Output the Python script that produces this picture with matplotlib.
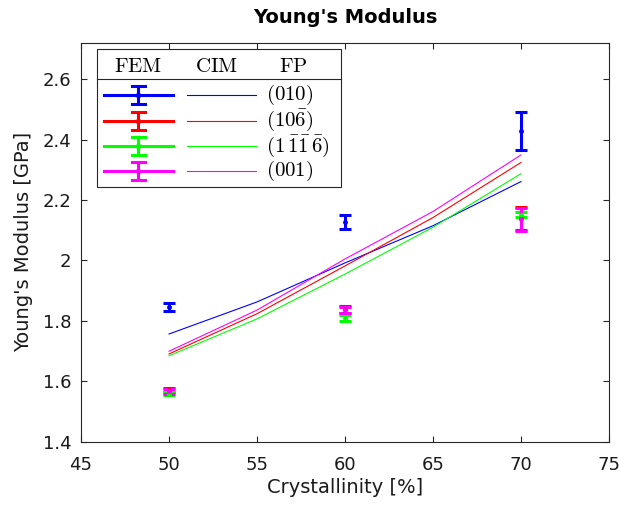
import matplotlib
matplotlib.use('Agg')
import matplotlib.pyplot as plt
from matplotlib.patches import Rectangle
from matplotlib.lines import Line2D
from matplotlib.ticker import FuncFormatter

plt.rcParams['font.family'] = 'DejaVu Sans'
plt.rcParams['mathtext.fontset'] = 'cm'

# FEM results (mean and error half-width) per crystallinity
fem_x = [50, 60, 70]
fem_blue = [1.845, 2.128, 2.428]
fem_blue_err = [0.013, 0.024, 0.062]
fem_red = [1.572, 1.838, 2.140]
fem_red_err = [0.008, 0.011, 0.038]
fem_green = [1.560, 1.810, 2.152]
fem_green_err = [0.005, 0.010, 0.008]
fem_magenta = [1.568, 1.835, 2.136]
fem_magenta_err = [0.008, 0.010, 0.037]

# CIM curves
cim_x = [50, 55, 60, 65, 70]
cim_blue = [1.757, 1.863, 1.992, 2.115, 2.261]
cim_red = [1.691, 1.824, 1.982, 2.142, 2.324]
cim_green = [1.685, 1.807, 1.955, 2.110, 2.287]
cim_magenta = [1.700, 1.836, 2.005, 2.162, 2.349]

plane_labels = [r'$(010)$', r'$(10\bar{6})$', r'$(1\,\bar{1}\bar{1}\,\bar{6})$', r'$(001)$']
colors = ['#0000ff', '#ff0000', '#00ff00', '#ff00ff']

fem_means = [fem_blue, fem_red, fem_green, fem_magenta]
fem_errs = [fem_blue_err, fem_red_err, fem_green_err, fem_magenta_err]
cim_vals = [cim_blue, cim_red, cim_green, cim_magenta]

fig = plt.figure(figsize=(6.19, 5.05), dpi=100)
ax = fig.add_axes([0.1309, 0.1248, 0.8529, 0.7906])

for vals, c in zip(cim_vals, colors):
    ax.plot(cim_x, vals, color=c, linewidth=0.8)

for m, e, c in zip(fem_means, fem_errs, colors):
    ax.errorbar(fem_x, m, yerr=e, fmt='.', color=c, markersize=5,
                elinewidth=2.2, capsize=4.5, capthick=2.2)

ax.set_xlim(45, 75)
ax.set_ylim(1.4, 2.72)
ax.set_xticks([45, 50, 55, 60, 65, 70, 75])
ax.set_yticks([1.4, 1.6, 1.8, 2.0, 2.2, 2.4, 2.6])
ax.yaxis.set_major_formatter(FuncFormatter(lambda v, p: '%g' % round(v, 2)))
ax.tick_params(direction='in', top=True, right=True, length=4, width=0.8,
               labelsize=13, colors='#262626', labelcolor='#1a1a1a')
ax.tick_params(axis='x', pad=10)
ax.tick_params(axis='y', pad=7)
for s in ax.spines.values():
    s.set_color('#262626')
    s.set_linewidth(0.8)

ax.set_title("Young's Modulus", fontsize=14, fontweight='bold', pad=14)
ax.set_xlabel('Crystallinity [%]', fontsize=14, color='#1a1a1a', labelpad=3)
ax.set_ylabel("Young's Modulus [GPa]", fontsize=14, color='#1a1a1a', labelpad=7)

# custom table-style legend
tr = ax.transAxes
ax.add_patch(Rectangle((0.031, 0.6395), 0.4608, 0.344, transform=tr,
                       facecolor='white', edgecolor='#262626', linewidth=0.8, zorder=5))
ax.add_line(Line2D([0.031, 0.4918], [0.9084, 0.9084], transform=tr,
                   color='#262626', linewidth=0.8, zorder=6))
head_y = 0.941
for txt, xx in [('FEM', 0.108), ('CIM', 0.2557), ('FP', 0.4015)]:
    ax.text(xx, head_y, r'$\mathrm{%s}$' % txt, transform=tr, ha='center', va='center',
            fontsize=15, zorder=7)

row_y = [0.869, 0.8047, 0.7414, 0.6788]
cap_w = 0.012
bar_h = 0.023
for ry, c, lab in zip(row_y, colors, plane_labels):
    ax.add_line(Line2D([0.0436, 0.1737], [ry, ry], transform=tr, color=c, linewidth=2.2, zorder=7))
    ax.add_line(Line2D([0.1086, 0.1086], [ry - bar_h, ry + bar_h], transform=tr, color=c,
                       linewidth=2.2, zorder=7))
    for cy in (ry - bar_h, ry + bar_h):
        ax.add_line(Line2D([0.1086 - cap_w, 0.1086 + cap_w], [cy, cy], transform=tr, color=c,
                           linewidth=2.2, zorder=7))
    ax.add_line(Line2D([0.1086], [ry], transform=tr, color=c, marker='.', markersize=6, zorder=8))
    ax.add_line(Line2D([0.2, 0.3309], [ry, ry], transform=tr, color=c, linewidth=0.8, zorder=7))
    ax.text(0.3498, ry, lab, transform=tr, ha='left', va='center', fontsize=15, zorder=7)

fig.savefig('out.png', dpi=100)
